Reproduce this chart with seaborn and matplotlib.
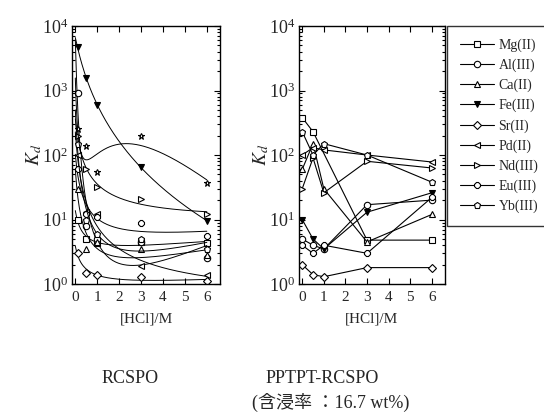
import numpy as np
import seaborn as sns
import matplotlib.pyplot as plt
from matplotlib.lines import Line2D

sns.set_theme(style="ticks")
plt.rcParams['font.family'] = ['Liberation Serif', 'Noto Sans CJK JP']
plt.rcParams['mathtext.fontset'] = 'stix'
plt.rcParams['xtick.direction'] = 'in'
plt.rcParams['ytick.direction'] = 'in'

# [HCl] / M
hcl_left = [0.1, 0.5, 1, 3, 6]
hcl_right = [0, 0.5, 1, 3, 6]

ions = ['Mg(II)', 'Al(III)', 'Ca(II)', 'Fe(III)', 'Sr(II)', 'Pd(II)', 'Nd(III)', 'Eu(III)', 'Yb(III)']
ion_markers = ['s', 'o', '^', 'v', 'D', '<', '>', '8', 'p']

# RCSPO (left)
mg_left = [10, 5, 4.4, 4.5, 4.3]
al_left = [900, 8, 5, 4.5, 2.5]
ca_left = [30, 3.5, 4.5, 3.5, 2.8]
fe_left = [4700, 1550, 600, 65, 9.5]
sr_left = [3, 1.5, 1.4, 1.3, 1.1]
pd_left = [100, 13, 12, 1.9, 1.4]
nd_left = [200, 60, 32, 21, 12]
eu_left = [60, 12, 11, 9, 5.5]
yb_left = [150, 10, 6, 5, 3.5]
star_left = [250, 140, 55, 195, 37]

# PPTPT-RCSPO (right)
mg_right = [380, 230, np.nan, 4.8, 4.8]
al_right = [5, 4, 3.5, 17, 20]
ca_right = [60, 150, 30, 4.5, 12]
fe_right = [10, 5, 3.5, 13, 26]
sr_right = [2, 1.4, 1.3, 1.8, 1.8]
pd_right = [100, 130, 120, 100, 78]
nd_right = [30, 90, 26, 80, 63]
eu_right = [4, 3, 4, 3, 22]
yb_right = [230, 100, 150, 100, 38]

left_series = [mg_left, al_left, ca_left, fe_left, sr_left, pd_left, nd_left, eu_left, yb_left]
right_series = [mg_right, al_right, ca_right, fe_right, sr_right, pd_right, nd_right, eu_right, yb_right]

fig = plt.figure(figsize=(5.44, 4.19), dpi=100)
ax1 = fig.add_axes([0.1324, 0.322, 0.272, 0.616])
ax2 = fig.add_axes([0.5496, 0.322, 0.268, 0.616])


def marker_style(m):
    face = 'black' if m == 'v' else 'white'
    size = 3.8 if m == 'D' else 4.6
    return dict(marker=m, markersize=size, markerfacecolor=face, markeredgecolor='black', markeredgewidth=0.8)


def smooth_curve(ax, x, y, deg):
    # fitted trend line in log space, as in the original figure
    u = np.log10(np.asarray(x) + 0.2)
    coef = np.polyfit(u, np.log10(y), deg)
    xs = np.linspace(0, 6, 200)
    ys = 10 ** np.polyval(coef, np.log10(xs + 0.2))
    sns.lineplot(x=xs, y=ys, ax=ax, color='black', lw=0.7, sort=False, estimator=None)


# left panel: points + smooth fits
for vals, m in zip(left_series, ion_markers):
    smooth_curve(ax1, hcl_left, vals, 2)
    sns.lineplot(x=hcl_left, y=vals, ax=ax1, lw=0, color='black', estimator=None, **marker_style(m))
smooth_curve(ax1, hcl_left, star_left, 3)
sns.lineplot(x=hcl_left, y=star_left, ax=ax1, lw=0, color='black', estimator=None, **marker_style('*'))

# right panel: points joined by straight lines
for vals, m in zip(right_series, ion_markers):
    sns.lineplot(x=hcl_right, y=vals, ax=ax2, color='black', lw=0.8, estimator=None, **marker_style(m))

for ax in (ax1, ax2):
    ax.set_yscale('log')
    ax.set_ylim(1, 1e4)
    ax.set_xlim(-0.15, 6.6)
    ax.set_xticks(range(7))
    ax.tick_params(which='both', top=True, right=True, width=0.8, color='black')
    ax.tick_params(which='major', length=4)
    ax.tick_params(which='minor', length=2)
    ax.tick_params(axis='x', labelsize=11, pad=5)
    ax.tick_params(axis='y', labelsize=13, pad=3)
    for s in ax.spines.values():
        s.set_linewidth(1.0)
        s.set_color('black')
    ax.set_xlabel('[HCl]/M', fontsize=11, labelpad=6)
    ax.set_ylabel('$K_d$', fontsize=14, labelpad=-2)

handles = [Line2D([], [], color='black', lw=0.8, **marker_style(m)) for m in ion_markers]
fig.legend(handles, ions, loc='upper left', bbox_to_anchor=(447 / 544, 1 - 26 / 419),
           frameon=True, fancybox=False, edgecolor='black', fontsize=10, handlelength=2.5,
           labelspacing=0.48, borderpad=0.9, handletextpad=0.3, borderaxespad=0)

fig.text(130 / 544, 1 - 378 / 419, 'RCSPO', ha='center', va='center', fontsize=13)
fig.text(322 / 544, 1 - 378 / 419, 'PPTPT-RCSPO', ha='center', va='center', fontsize=13)
fig.text(331 / 544, 1 - 402 / 419, '(含浸率 ：16.7 wt%)', ha='center', va='center', fontsize=13)

fig.savefig('out.png', dpi=100)
